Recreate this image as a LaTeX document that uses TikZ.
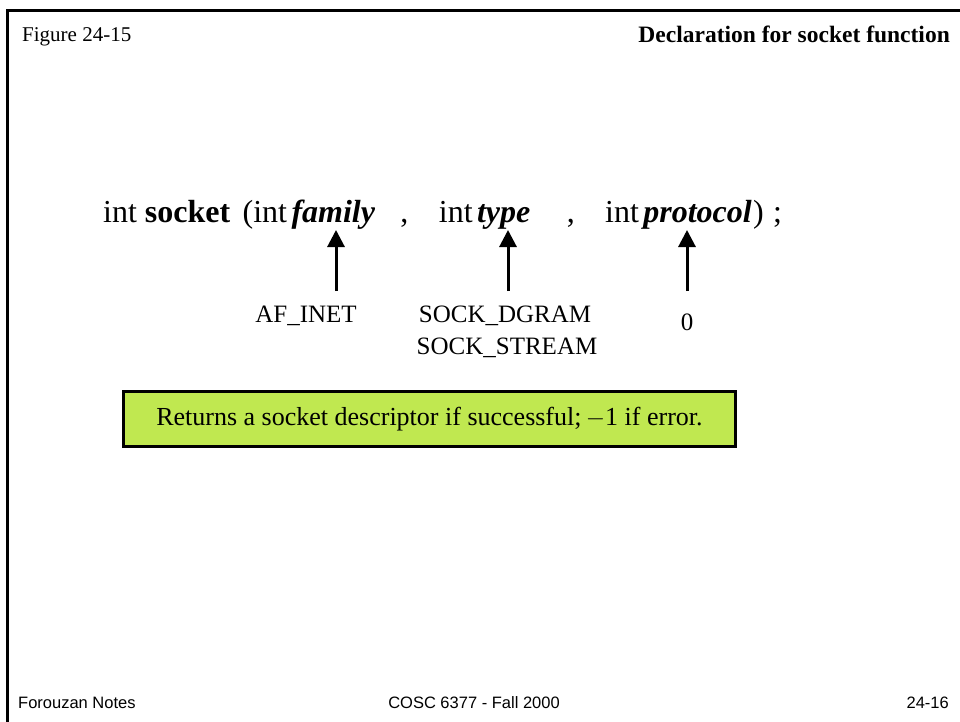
\documentclass[tikz,border=0pt]{standalone}
\usepackage{fontspec}
\setmainfont{Liberation Serif}
\newfontfamily\footfont{Liberation Sans}
\usetikzlibrary{arrows.meta}
\definecolor{boxgreen}{RGB}{192,232,80}
\begin{document}
\begin{tikzpicture}[x=1pt,y=-1pt,
  txt/.style={inner sep=0pt,anchor=base west},
  decl/.style={inner sep=0pt,anchor=base west,font=\fontsize{32}{38}\selectfont},
  parm/.style={decl,font=\fontsize{32}{38}\selectfont\bfseries\itshape},
  lbl/.style={inner sep=0pt,anchor=base,font=\fontsize{25}{29}\selectfont},
  foot/.style={inner sep=0pt,anchor=base,font=\footfont\fontsize{16.5}{19}\selectfont},
  uparrow/.style={line width=3pt,-{Triangle[width=17pt,length=17pt]}},
  retbox/.style={draw=black,line width=2.5pt,fill=boxgreen,minimum width=612pt,minimum height=55pt,inner sep=0pt,font=\fontsize{26}{30}\selectfont}]
\useasboundingbox (0,0) rectangle (960,722);
\fill[white] (0,0) rectangle (960,722);
\draw[line width=2.5pt] (7.5,722) -- (7.5,10.5) -- (960,10.5);
\node[txt,font=\fontsize{21}{25}\selectfont] (fig) at (22,42) {Figure 24-15};
\node[txt,anchor=base east,font=\bfseries\fontsize{23.5}{28}\selectfont] (title) at (950,43) {Declaration for socket function};
\node[decl] (d1) at (103,222) {int \textbf{socket}};
\node[decl] (d2) at ([xshift=12pt]d1.base east) {(int};
\node[parm] (d3) at ([xshift=4pt]d2.base east) {family};
\node[decl] (d4) at ([xshift=25pt]d3.base east) {,};
\node[decl] (d5) at ([xshift=30pt]d4.base east) {int};
\node[parm] (d6) at ([xshift=4pt]d5.base east) {type};
\node[decl] (d7) at ([xshift=36pt]d6.base east) {,};
\node[decl] (d8) at ([xshift=30pt]d7.base east) {int};
\node[parm] (d9) at ([xshift=4pt]d8.base east) {protocol};
\node[decl] (d10) at ([xshift=1pt]d9.base east) {)};
\node[decl] (d11) at ([xshift=9pt]d10.base east) {;};
\coordinate (fa) at (336,291);
\coordinate (fb) at (336,230);
\coordinate (ta) at (508,291);
\coordinate (tb) at (508,230);
\coordinate (pa) at (687,291);
\coordinate (pb) at (687,230);
\draw[uparrow] (fa) -- (fb);
\draw[uparrow] (ta) -- (tb);
\draw[uparrow] (pa) -- (pb);
\node[lbl] (afinet) at (306,322) {AF\_INET};
\node[lbl] (dgram) at (505,322) {SOCK\_DGRAM};
\node[lbl] (stream) at (507,354) {SOCK\_STREAM};
\node[lbl] (zero) at (687,330) {0};
\node[retbox] (ret) at (429.5,419) {Returns a socket descriptor if successful;\,$-$1 if error.};
\node[foot,anchor=base west] (f1) at (18,708) {Forouzan Notes};
\node[foot] (f2) at (474,708) {COSC 6377 - Fall 2000};
\node[foot,anchor=base east] (f3) at (949,708) {24-16};
\end{tikzpicture}
\end{document}
